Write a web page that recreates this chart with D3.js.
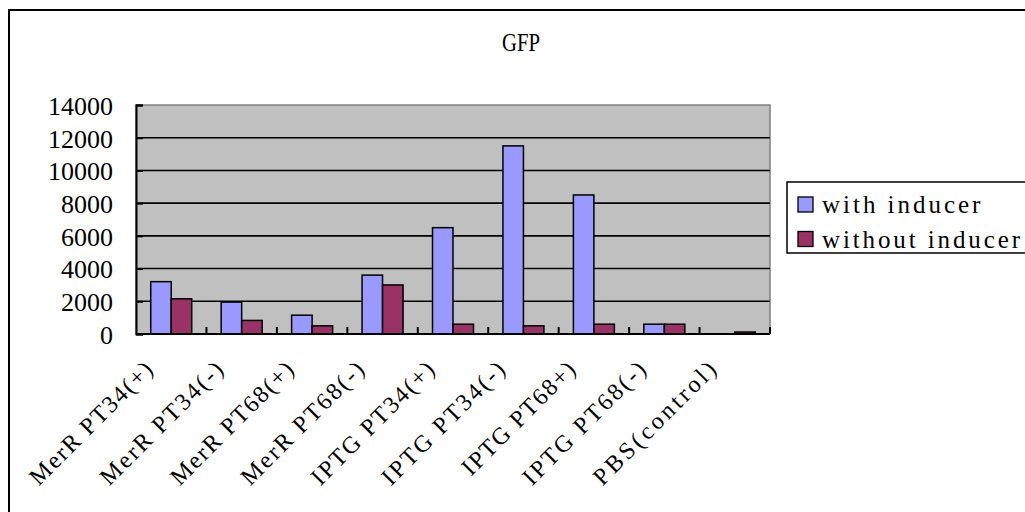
<!DOCTYPE html>
<html>
<head>
<meta charset="utf-8">
<script src="https://cdn.jsdelivr.net/npm/d3@7"></script>
<style>
  html, body { margin: 0; padding: 0; background: #fff; }
  svg { display: block; }
  text { font-family: "Liberation Serif", "Noto Sans CJK SC", serif; fill: #000; }
</style>
</head>
<body>
<svg id="chart" width="1025" height="512"></svg>
<script>
// GFP fluorescence per construct, with and without inducer
const categories = [
  "MerR PT34(+)", "MerR PT34(-)", "MerR PT68(+)", "MerR PT68(-)",
  "IPTG PT34(+)", "IPTG PT34(-)", "IPTG PT68+)", "IPTG PT68(-)", "PBS(control)"
];
const seriesNames = ["with inducer", "without inducer"];
const withInducer    = [3200, 1950, 1150, 3600, 6500, 11500, 8500, 600, 0];
const withoutInducer = [2150, 830, 500, 3000, 600, 500, 600, 600, 120];
const yTicks = [0, 2000, 4000, 6000, 8000, 10000, 12000, 14000];
const colors = ["#9999FF", "#993366"];
const title = "GFP";

const svg = d3.select("#chart");

// outer chart frame
svg.append("rect")
  .attr("x", 9).attr("y", 10).attr("width", 1030).attr("height", 520)
  .attr("fill", "#fff").attr("stroke", "#000").attr("stroke-width", 2);

const plot = { left: 136, right: 770, top: 105, bottom: 334 };

const x = d3.scaleBand().domain(categories).range([plot.left, plot.right]).padding(0);
const inner = d3.scaleBand().domain(seriesNames)
  .range([x.bandwidth() * 0.209, x.bandwidth() * 0.791]).padding(0);
const y = d3.scaleLinear().domain([0, 14000]).range([plot.bottom, plot.top]);

// plot area
svg.append("rect")
  .attr("x", plot.left).attr("y", plot.top)
  .attr("width", plot.right - plot.left).attr("height", plot.bottom - plot.top)
  .attr("fill", "#C0C0C0").attr("stroke", "#808080").attr("stroke-width", 1.5);

// horizontal gridlines
svg.append("g").selectAll("line")
  .data(yTicks.filter(v => v > 0 && v < 14000))
  .join("line")
  .attr("x1", plot.left).attr("x2", plot.right)
  .attr("y1", d => y(d)).attr("y2", d => y(d))
  .attr("stroke", "#000").attr("stroke-width", 1.6);

// bars
const data = categories.map((c, i) => ({ c, vals: [withInducer[i], withoutInducer[i]] }));
const groups = svg.append("g").selectAll("g")
  .data(data).join("g")
  .attr("transform", d => `translate(${x(d.c)},0)`);
groups.selectAll("rect")
  .data(d => d.vals.map((v, k) => ({ s: seriesNames[k], v, k })))
  .join("rect")
  .attr("x", d => inner(d.s))
  .attr("width", inner.bandwidth())
  .attr("y", d => y(d.v))
  .attr("height", d => y(0) - y(d.v))
  .attr("fill", d => colors[d.k])
  .attr("stroke", "#000").attr("stroke-width", 1.5);

// y axis
const yAxis = d3.axisLeft(y).tickValues(yTicks).tickSize(-7).tickPadding(0).tickFormat(d3.format("d"));
const yg = svg.append("g").attr("transform", `translate(${plot.left},0)`).call(yAxis)
  .attr("font-family", '"Liberation Serif", serif').attr("font-size", 26);
yg.select(".domain").attr("stroke", "#000").attr("stroke-width", 2);
yg.selectAll(".tick line").attr("stroke", "#000").attr("stroke-width", 2);
yg.selectAll(".tick text")
  .attr("x", -23).attr("dy", "0.36em")
  .attr("fill", "#000");

// x axis: tick marks sit between categories
const bounds = categories.map(c => x(c) + x.bandwidth()).slice(0, -1).concat([plot.right]);
svg.append("line")
  .attr("x1", plot.left).attr("x2", plot.right)
  .attr("y1", plot.bottom).attr("y2", plot.bottom)
  .attr("stroke", "#000").attr("stroke-width", 2);
svg.append("g").selectAll("line").data(bounds).join("line")
  .attr("x1", d => d).attr("x2", d => d)
  .attr("y1", plot.bottom).attr("y2", plot.bottom - 7)
  .attr("stroke", "#000").attr("stroke-width", 2);

// rotated category labels, monospaced cell spacing
svg.append("g").selectAll("text").data(categories).join("text")
  .attr("text-anchor", "end")
  .attr("transform", d => `translate(${x(d) + x.bandwidth() / 2 - 17},371) rotate(-45)`)
  .attr("textLength", d => d.length * 13.6)
  .attr("lengthAdjust", "spacing")
  .style("font-size", "24px")
  .text(d => d);

// title
svg.append("text")
  .attr("x", 521).attr("y", 51)
  .attr("text-anchor", "middle")
  .attr("textLength", 38).attr("lengthAdjust", "spacingAndGlyphs")
  .style("font-size", "25px")
  .text(title);

// legend
const legend = svg.append("g");
legend.append("rect")
  .attr("x", 787).attr("y", 182).attr("width", 260).attr("height", 71)
  .attr("fill", "#fff").attr("stroke", "#000").attr("stroke-width", 1.5);
const items = legend.selectAll("g").data(seriesNames).join("g")
  .attr("transform", (d, i) => `translate(798,${197 + i * 34.5})`);
items.append("rect")
  .attr("width", 15).attr("height", 15)
  .attr("fill", (d, i) => colors[i]).attr("stroke", "#000").attr("stroke-width", 1.3);
items.append("text")
  .attr("x", 24).attr("y", 16)
  .attr("textLength", d => d.length * 13.2)
  .attr("lengthAdjust", "spacing")
  .style("font-size", "25px")
  .text(d => d);
</script>
</body>
</html>
